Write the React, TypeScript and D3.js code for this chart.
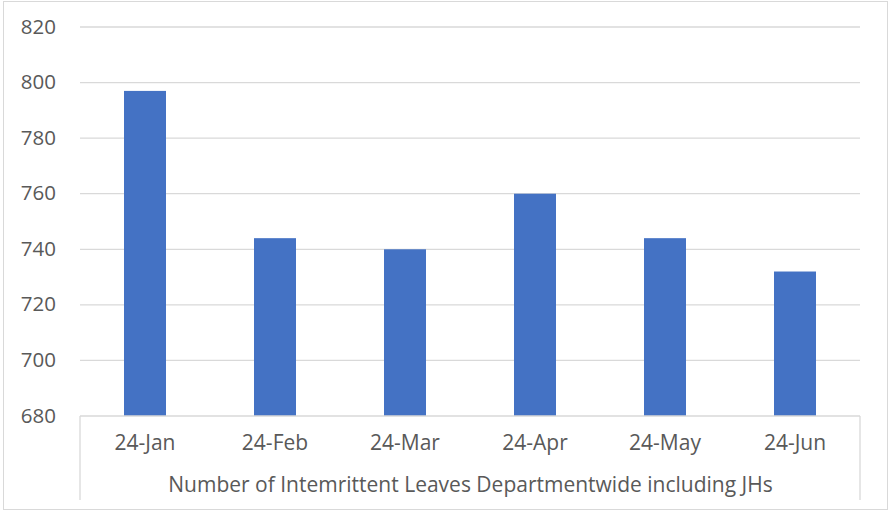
import React from "react";
import * as d3 from "d3";

const categories = ["24-Jan", "24-Feb", "24-Mar", "24-Apr", "24-May", "24-Jun"];
const values = [797, 744, 740, 760, 744, 732];
const yTicks = [680, 700, 720, 740, 760, 780, 800, 820];
const axisTitle = "Number of Intemrittent Leaves Departmentwide including JHs";

export default function App() {
  const W = 892, H = 512;
  const left = 80, right = 860, top = 27, bottom = 416;
  const x = d3.scaleBand<string>().domain(categories).range([left, right]).paddingInner(0.677).paddingOuter(0.3385);
  const y = d3.scaleLinear().domain([680, 820]).range([bottom, top]);
  const font = "'Open Sans', 'Liberation Sans', sans-serif";
  const fs = 21;
  return (
    <svg width={W} height={H} style={{ position: "absolute", left: 0, top: 0, background: "#fff" }}>
      <rect x={3.5} y={1.5} width={884} height={508} fill="#fff" stroke="#d9d9d9" />
      {yTicks.map((t) => (
        <g key={t}>
          {t !== 680 && <line x1={left} x2={right} y1={y(t)} y2={y(t)} stroke="#d9d9d9" strokeWidth={1.3} />}
          <text x={56} y={y(t) + 6.5} textAnchor="end" fontFamily={font} fontSize={fs - 0.5} fill="#595959">{t}</text>
        </g>
      ))}
      {categories.map((c, i) => (
        <rect key={c} x={x(c)} y={y(values[i])} width={x.bandwidth()} height={bottom - y(values[i])} fill="#4472c4" />
      ))}
      <line x1={left} x2={right} y1={bottom} y2={bottom} stroke="#d9d9d9" strokeWidth={1.3} />
      <line x1={left} x2={left} y1={bottom} y2={500} stroke="#d9d9d9" strokeWidth={1.3} />
      <line x1={right} x2={right} y1={bottom} y2={500} stroke="#d9d9d9" strokeWidth={1.3} />
      {categories.map((c) => (
        <text key={c} x={(x(c) as number) + x.bandwidth() / 2} y={450} textAnchor="middle" fontFamily={font} fontSize={fs} fill="#595959">{c}</text>
      ))}
      <text x={(left + right) / 2 + 0.5} y={492} textAnchor="middle" fontFamily={font} fontSize={fs} fill="#595959">{axisTitle}</text>
    </svg>
  );
}
